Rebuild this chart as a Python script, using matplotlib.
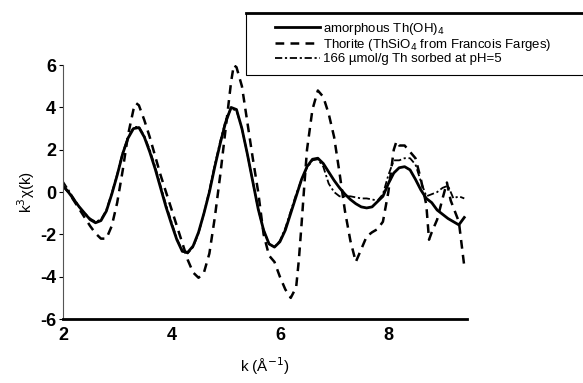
import matplotlib
matplotlib.use("Agg")
import matplotlib.pyplot as plt
from matplotlib.lines import Line2D
from matplotlib.patches import Rectangle

plt.rcParams['font.family'] = ['Liberation Sans', 'DejaVu Sans']
plt.rcParams['axes.unicode_minus'] = False

# k (1/A) and k^3 chi(k)
k_amorph = [2.0, 2.1, 2.2, 2.3, 2.4, 2.5, 2.6, 2.7, 2.8, 2.9,
            3.0, 3.1, 3.2, 3.3, 3.4, 3.5, 3.6, 3.7, 3.8, 3.9,
            4.0, 4.1, 4.2, 4.3, 4.4, 4.5, 4.6, 4.7, 4.8, 4.9,
            5.0, 5.1, 5.2, 5.3, 5.4, 5.5, 5.6, 5.7, 5.8, 5.9,
            6.0, 6.1, 6.2, 6.3, 6.4, 6.5, 6.6, 6.7, 6.8, 6.9,
            7.0, 7.1, 7.2, 7.3, 7.4, 7.5, 7.6, 7.7, 7.8, 7.9,
            8.0, 8.1, 8.2, 8.3, 8.4, 8.5, 8.6, 8.7, 8.8, 8.9,
            9.0, 9.1, 9.2, 9.3, 9.4]
chi_amorph = [0.3, 0.0, -0.35, -0.7, -1.0, -1.3, -1.45, -1.35, -0.9, -0.1,
              0.8, 1.8, 2.55, 3.0, 3.05, 2.6, 1.9, 1.1, 0.2, -0.7,
              -1.5, -2.25, -2.8, -2.85, -2.55, -1.9, -1.0, 0.0, 1.2, 2.3,
              3.3, 4.0, 3.9, 3.0, 1.8, 0.5, -0.8, -1.8, -2.45, -2.6,
              -2.35, -1.8, -1.0, -0.2, 0.6, 1.2, 1.55, 1.6, 1.35, 0.95,
              0.55, 0.2, -0.1, -0.35, -0.55, -0.7, -0.75, -0.7, -0.45, -0.2,
              0.4, 0.9, 1.15, 1.2, 1.05, 0.6, 0.1, -0.3, -0.5, -0.85,
              -1.05, -1.25, -1.4, -1.55, -1.2]

k_thorite = [2.0, 2.1, 2.2, 2.3, 2.4, 2.5, 2.6, 2.7, 2.8, 2.9,
             3.0, 3.1, 3.2, 3.3, 3.35, 3.4, 3.5, 3.6, 3.7, 3.8, 3.9,
             4.0, 4.1, 4.2, 4.3, 4.4, 4.5, 4.6, 4.7, 4.8, 4.9,
             5.0, 5.1, 5.15, 5.2, 5.3, 5.4, 5.5, 5.6, 5.7, 5.8, 5.9,
             6.0, 6.1, 6.2, 6.3, 6.35, 6.4, 6.45, 6.5, 6.6, 6.7, 6.8, 6.9,
             7.0, 7.1, 7.2, 7.3, 7.4, 7.5, 7.6, 7.7, 7.8, 7.9,
             8.0, 8.1, 8.15, 8.2, 8.3, 8.4, 8.5, 8.6, 8.7, 8.75, 8.8, 8.9,
             9.0, 9.08, 9.15, 9.3, 9.4]
chi_thorite = [0.3, 0.0, -0.4, -0.8, -1.2, -1.6, -1.95, -2.2, -2.2, -1.6,
               -0.5, 1.0, 2.7, 3.9, 4.2, 4.1, 3.4, 2.6, 1.7, 0.8, 0.0,
               -0.8, -1.6, -2.4, -3.2, -3.8, -4.05, -3.8, -2.9, -1.2, 0.8,
               3.0, 5.2, 6.0, 5.9, 5.0, 3.3, 1.6, 0.0, -2.0, -3.0, -3.3,
               -4.0, -4.6, -5.0, -4.5, -3.2, -1.5, 0.3, 2.0, 3.9, 4.8, 4.5, 3.7,
               2.6, 0.9, -0.9, -2.3, -3.3, -2.7, -2.1, -1.9, -1.75, -1.4,
               0.0, 2.0, 2.4, 2.2, 2.2, 1.9, 1.6, 0.6, -0.6, -2.25, -1.9, -1.3,
               -0.3, 0.45, -0.4, -1.4, -3.5]

k_sorbed = k_amorph
chi_sorbed = [0.5, 0.1, -0.3, -0.7, -1.0, -1.25, -1.4, -1.3, -0.85, -0.05,
              0.85, 1.85, 2.6, 3.05, 3.1, 2.65, 2.0, 1.2, 0.3, -0.6,
              -1.4, -2.2, -2.75, -2.9, -2.6, -1.95, -1.0, 0.1, 1.3, 2.4,
              3.4, 3.95, 3.85, 3.0, 1.8, 0.5, -0.8, -1.8, -2.45, -2.6,
              -2.3, -1.7, -0.9, -0.1, 0.6, 1.15, 1.5, 1.55, 1.2, 0.4,
              0.0, -0.2, -0.2, -0.2, -0.25, -0.3, -0.3, -0.35, -0.4, -0.1,
              0.8, 1.5, 1.5, 1.6, 1.6, 1.3, 0.5, -0.2, -0.1, 0.0,
              0.2, 0.3, -0.3, -0.2, -0.3]

labels = ['amorphous Th(OH)$_4$',
          'Thorite (ThSiO$_4$ from Francois Farges)',
          '166 \u00b5mol/g Th sorbed at pH=5']

fig = plt.figure(figsize=(5.83, 3.83), dpi=100)
ax = fig.add_axes([0.108, 0.167, 0.693, 0.663])

ax.plot(k_amorph, chi_amorph, color='black', lw=2.0, label=labels[0])
ax.plot(k_thorite, chi_thorite, color='black', lw=1.8, ls=(0, (3.5, 2.5)), label=labels[1])
ax.plot(k_sorbed, chi_sorbed, color='black', lw=1.3, ls=(0, (4, 1.5, 1.2, 1.5)), label=labels[2])

ax.set_xlim(2, 9.45)
ax.set_ylim(-6, 6)
ax.set_xticks([2, 4, 6, 8])
ax.set_yticks([-6, -4, -2, 0, 2, 4, 6])
ax.spines['top'].set_visible(False)
ax.spines['right'].set_visible(False)
ax.spines['bottom'].set_linewidth(2.0)
ax.spines['left'].set_linewidth(0.8)
ax.spines['left'].set_color('#555555')
ax.tick_params(axis='both', direction='out', length=3, width=0.8, labelsize=13, pad=2)
ax.tick_params(axis='x', length=0, pad=6)
for t in ax.get_xticklabels() + ax.get_yticklabels():
    t.set_fontweight('bold')

ax.set_xlabel('k (\u00c5$^{-1}$)', fontsize=11, labelpad=8)
ax.set_ylabel('k$^3$\u03c7(k)', fontsize=11, labelpad=2)

# legend box: runs off the right edge in the scan
fig.add_artist(Rectangle((0.422, 0.804), 0.6, 0.162, transform=fig.transFigure,
                         facecolor='white', edgecolor='black', lw=0.8, zorder=3))
fig.add_artist(Line2D([0.422, 1.0], [0.966, 0.966], color='black', lw=2.0,
                      transform=fig.transFigure, zorder=4))
leg = fig.legend(loc='upper left', bbox_to_anchor=(0.472, 0.945), fontsize=9.5,
                 frameon=False, handlelength=3.4, handletextpad=0.25,
                 borderpad=0, labelspacing=0.0, borderaxespad=0)
leg.set_zorder(5)

fig.savefig('out.png', dpi=100)
